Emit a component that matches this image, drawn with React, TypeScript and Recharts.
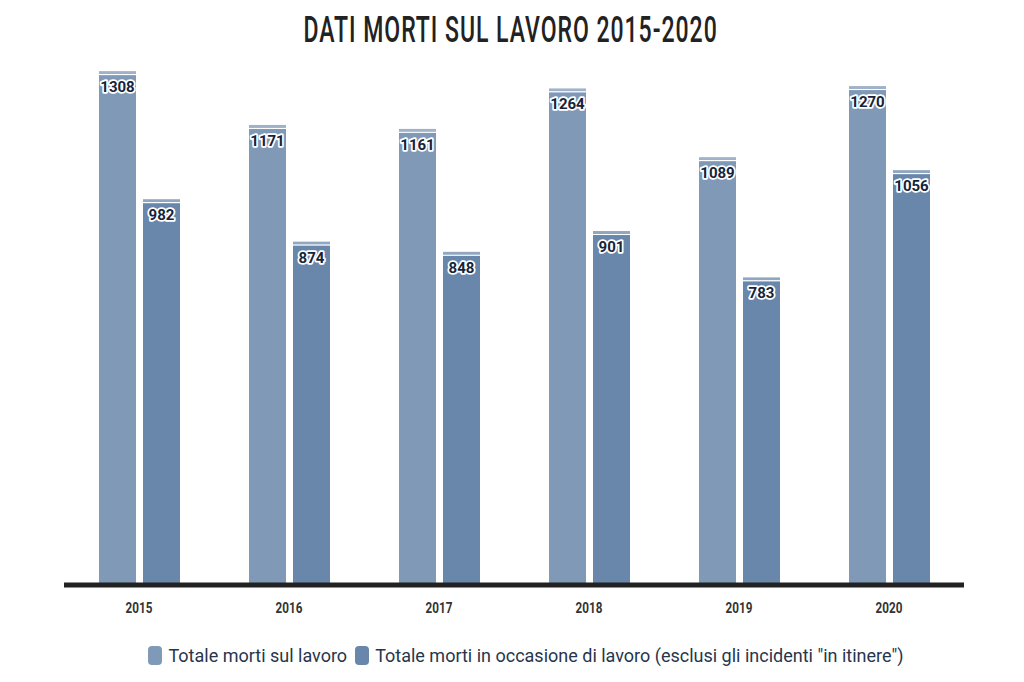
import { Bar, BarChart, LabelList, XAxis, YAxis } from 'recharts'

const years = ['2015', '2016', '2017', '2018', '2019', '2020']
const totaleMorti = [1308, 1171, 1161, 1264, 1089, 1270]
const morteOccasione = [982, 874, 848, 901, 783, 1056]
const seriesNames = [
  'Totale morti sul lavoro',
  'Totale morti in occasione di lavoro (esclusi gli incidenti "in itinere")',
]
const seriesColors = ['#7f99b7', '#6987ab']
const capColors = ['#9fb2c9', '#90a7c2']

const data = years.map((y, i) => ({ year: y, totale: totaleMorti[i], occasione: morteOccasione[i] }))

function cappedBar(idx: number) {
  return (props: any) => {
    const { x, y, width, height } = props
    if (!height || height <= 0) return <g />
    return (
      <g>
        <rect x={x} y={y} width={width} height={3} fill={capColors[idx]} />
        <rect x={x} y={y + 3} width={width} height={1} fill="#ffffff" />
        <rect x={x} y={y + 4} width={width} height={height - 4} fill={seriesColors[idx]} />
      </g>
    )
  }
}

function valueLabel(props: any) {
  const { x, y, width, value } = props
  return (
    <text
      x={x + width / 2}
      y={y + 16}
      textAnchor="middle"
      dominantBaseline="central"
      fontFamily="Roboto"
      fontWeight={700}
      fontSize={15}
      fill="#15243a"
      stroke="#ffffff"
      strokeWidth={3.5}
      strokeLinejoin="round"
      paintOrder="stroke"
    >
      {value}
    </text>
  )
}

function yearTick(props: any) {
  const { x, y, payload } = props
  return (
    <g transform={`translate(${x},${y + 20}) scale(0.78,1)`}>
      <text textAnchor="middle" fontFamily="Roboto" fontWeight={700} fontSize={15} fill="#333">
        {payload.value}
      </text>
    </g>
  )
}

export default function App() {
  return (
    <div style={{ position: 'absolute', left: 0, top: 0, width: 1024, height: 682, background: '#fff' }}>
      <div
        style={{
          position: 'absolute',
          top: 10,
          left: 0,
          width: 1024,
          textAlign: 'center',
          fontFamily: 'Roboto',
          fontWeight: 500,
          fontSize: 36,
          color: '#222',
          letterSpacing: 1.5,
          transform: 'scaleX(0.64)',
          transformOrigin: '508px 0',
          lineHeight: '40px',
        }}
      >
        DATI MORTI SUL LAVORO 2015-2020
      </div>
      <BarChart
        width={1024}
        height={682}
        data={data}
        margin={{ top: 35, right: 60, left: 64, bottom: 67 }}
        barGap={7}
        barSize={37}
      >
        <YAxis hide domain={[0, 1400]} />
        <XAxis
          dataKey="year"
          height={30}
          tickLine={false}
          axisLine={{ stroke: '#222', strokeWidth: 5 }}
          tick={yearTick}
        />
        <Bar dataKey="totale" fill={seriesColors[0]} shape={cappedBar(0)} isAnimationActive={false}>
          <LabelList dataKey="totale" content={valueLabel} />
        </Bar>
        <Bar dataKey="occasione" fill={seriesColors[1]} shape={cappedBar(1)} isAnimationActive={false}>
          <LabelList dataKey="occasione" content={valueLabel} />
        </Bar>
      </BarChart>
      <div
        style={{
          position: 'absolute',
          top: 645,
          left: 0,
          width: 1024,
          display: 'flex',
          justifyContent: 'center',
          paddingLeft: 36,
          boxSizing: 'border-box',
          fontFamily: 'Roboto',
          fontSize: 18,
          color: '#26364d',
        }}
      >
        {seriesNames.map((n, i) => (
          <div key={n} style={{ display: 'flex', alignItems: 'center', marginRight: 8 }}>
            <span
              style={{
                display: 'inline-block',
                width: 14,
                height: 19,
                borderRadius: 4,
                background: seriesColors[i],
                marginRight: 6,
              }}
            />
            {n}
          </div>
        ))}
      </div>
    </div>
  )
}
